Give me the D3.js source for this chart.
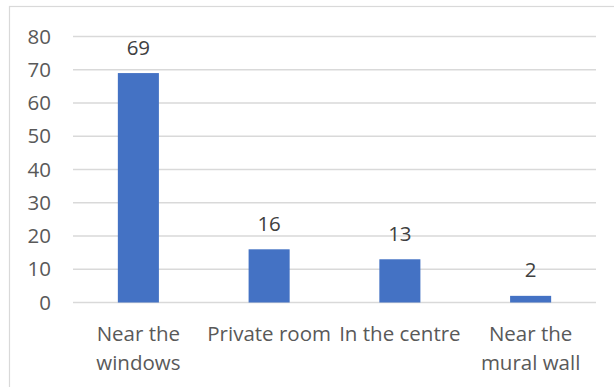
<!DOCTYPE html>
<html>
<head>
<meta charset="utf-8">
<script src="https://cdn.jsdelivr.net/npm/d3@7"></script>
<style>
  html, body { margin: 0; padding: 0; background: #fff; }
  svg { display: block; }
  text { font-family: "Open Sans", Lato, sans-serif; }
</style>
</head>
<body>
<svg id="chart" width="614" height="387"></svg>
<script>
// Where people prefer to sit
const categories = [["Near the", "windows"], ["Private room"], ["In the centre"], ["Near the", "mural wall"]];
const values = [69, 16, 13, 2];
const yTicks = [0, 10, 20, 30, 40, 50, 60, 70, 80];

const W = 614, H = 387;
const plot = { left: 73, right: 596, top: 36.5, bottom: 302.5 };
const font = "\"Open Sans\", Lato, sans-serif";
const fontSize = "20.5px";
const svg = d3.select("#chart");

// outer chart frame
svg.append("rect")
  .attr("x", 9.5).attr("y", 6.5)
  .attr("width", W + 10).attr("height", H + 10)
  .attr("fill", "none").attr("stroke", "#d9d9d9").attr("stroke-width", 1.2);

const x = d3.scaleBand().domain(d3.range(values.length)).range([plot.left, plot.right]).padding(0);
const y = d3.scaleLinear().domain([0, 80]).range([plot.bottom, plot.top]);
const barW = x.bandwidth() * 0.314;

// horizontal gridlines
svg.append("g").selectAll("line").data(yTicks).join("line")
  .attr("x1", plot.left).attr("x2", plot.right)
  .attr("y1", d => y(d)).attr("y2", d => y(d))
  .attr("stroke", "#d9d9d9").attr("stroke-width", 1.3);

// y axis labels
const yAxis = d3.axisLeft(y).tickValues(yTicks).tickSize(0).tickPadding(22);
const gy = svg.append("g").attr("transform", `translate(${plot.left},0)`).call(yAxis);
gy.select(".domain").remove();
gy.selectAll("text").attr("fill", "#595959").style("font-size", fontSize).style("font-family", font);

// bars
svg.append("g").selectAll("rect").data(values).join("rect")
  .attr("x", (d, i) => x(i) + x.bandwidth() / 2 - barW / 2)
  .attr("y", d => y(d))
  .attr("width", barW)
  .attr("height", d => y(0) - y(d))
  .attr("fill", "#4472c4");

// value labels
svg.append("g").selectAll("text").data(values).join("text")
  .attr("x", (d, i) => x(i) + x.bandwidth() / 2)
  .attr("y", d => y(d) - 18.5)
  .attr("text-anchor", "middle")
  .attr("fill", "#404040")
  .style("font-size", fontSize)
  .text(d => d);

// category labels
const cat = svg.append("g").selectAll("text").data(categories).join("text")
  .attr("x", (d, i) => x(i) + x.bandwidth() / 2)
  .attr("y", 341)
  .attr("text-anchor", "middle")
  .attr("fill", "#595959")
  .style("font-size", fontSize);
cat.selectAll("tspan").data(d => d).join("tspan")
  .attr("x", function () { return this.parentNode.getAttribute("x"); })
  .attr("dy", (d, i) => i === 0 ? 0 : 28.5)
  .text(d => d);
</script>
</body>
</html>
